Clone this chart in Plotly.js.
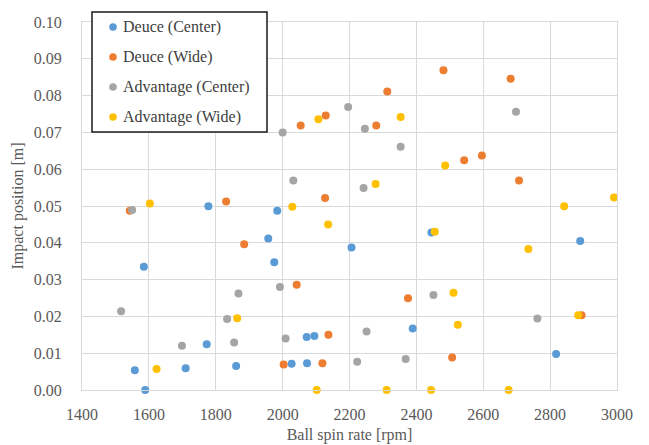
<!DOCTYPE html>
<html>
<head>
<meta charset="utf-8">
<script src="https://cdn.plot.ly/plotly-3.0.1.min.js"></script>
<style>
  html, body { margin: 0; padding: 0; background: #ffffff; }
  #chart { width: 649px; height: 445px; }
</style>
</head>
<body>
<div id="chart"></div>
<script>
// Serve impact position versus ball spin rate, split by court side and serve direction
const seriesNames = ["Deuce (Center)", "Deuce (Wide)", "Advantage (Center)", "Advantage (Wide)"];

const deuceCenterSpin = [1778, 1984, 1957, 1975, 1585, 2206, 2445, 2890, 1773, 2072, 2095, 2389, 1558, 1710, 1861, 2027, 2073, 1589, 2818];
const deuceCenterPos  = [0.0499, 0.0487, 0.0412, 0.0347, 0.0335, 0.0387, 0.0428, 0.0405, 0.0124, 0.0144, 0.0147, 0.0167, 0.0054, 0.0059, 0.0065, 0.0071, 0.0073, 0.0000, 0.0098];

const deuceWideSpin = [1543, 1831, 2054, 2129, 2127, 2313, 2280, 2481, 2682, 2543, 2596, 2707, 1885, 2042, 2375, 2894, 2137, 2003, 2119, 2507];
const deuceWidePos  = [0.0487, 0.0512, 0.0719, 0.0746, 0.0522, 0.0811, 0.0719, 0.0869, 0.0846, 0.0624, 0.0637, 0.0569, 0.0396, 0.0286, 0.0249, 0.0203, 0.0150, 0.0069, 0.0073, 0.0088];

const advCenterSpin = [1550, 2000, 2032, 2196, 2246, 2698, 2353, 2242, 1992, 1868, 1517, 1834, 1699, 1855, 2009, 2451, 2762, 2251, 2223, 2368];
const advCenterPos  = [0.0489, 0.0700, 0.0569, 0.0769, 0.0710, 0.0756, 0.0661, 0.0549, 0.0280, 0.0262, 0.0214, 0.0193, 0.0120, 0.0129, 0.0140, 0.0258, 0.0194, 0.0159, 0.0077, 0.0084];

const advWideSpin = [1603, 2107, 2029, 2353, 2486, 2278, 2842, 2991, 2136, 2455, 2735, 1864, 2511, 2884, 2524, 1623, 2102, 2311, 2444, 2676];
const advWidePos  = [0.0507, 0.0736, 0.0498, 0.0742, 0.0610, 0.0560, 0.0499, 0.0523, 0.0450, 0.0430, 0.0383, 0.0195, 0.0264, 0.0203, 0.0177, 0.0057, 0.0000, 0.0000, 0.0000, 0.0000];

const xTicks = [1400, 1600, 1800, 2000, 2200, 2400, 2600, 2800, 3000];
const yTicks = [0.00, 0.01, 0.02, 0.03, 0.04, 0.05, 0.06, 0.07, 0.08, 0.09, 0.10];

const colors = ["#5B9BD5", "#ED7D31", "#A5A5A5", "#FFC000"];
const xs = [deuceCenterSpin, deuceWideSpin, advCenterSpin, advWideSpin];
const ys = [deuceCenterPos, deuceWidePos, advCenterPos, advWidePos];

const traces = seriesNames.map((name, i) => ({
  type: "scatter",
  mode: "markers",
  name: name,
  x: xs[i],
  y: ys[i],
  marker: { color: colors[i], size: 8, line: { width: 0 } },
  cliponaxis: false,
  showlegend: false
}));

const serif = "Liberation Serif, Tinos, Times New Roman, DejaVu Serif, serif";
const gridColor = "#d9d9d9";

// Plot area geometry in pixels, used to place the boxed legend
const plotLeft = 82, plotRight = 617, plotTop = 22, plotBottom = 390;
const px2x = p => (p - plotLeft) / (plotRight - plotLeft);
const py2y = p => (plotBottom - p) / (plotBottom - plotTop);

const legendBox = { left: 92, right: 267, top: 12, bottom: 132 };
const legendRowTop = 27, legendRowStep = 30, legendMarkerX = 113, legendTextX = 121;

const shapes = [{
  type: "rect", xref: "paper", yref: "paper",
  x0: px2x(legendBox.left), x1: px2x(legendBox.right),
  y0: py2y(legendBox.bottom), y1: py2y(legendBox.top),
  fillcolor: "#ffffff", line: { color: "#1a1a1a", width: 1.5 }, layer: "above"
}];
const annotations = [];
seriesNames.forEach((name, i) => {
  const rowY = legendRowTop + i * legendRowStep;
  shapes.push({
    type: "circle", xref: "paper", yref: "paper",
    xsizemode: "pixel", ysizemode: "pixel",
    xanchor: px2x(legendMarkerX), yanchor: py2y(rowY),
    x0: -3.8, x1: 3.8, y0: -3.8, y1: 3.8,
    fillcolor: colors[i], line: { width: 0 }, layer: "above"
  });
  annotations.push({
    xref: "paper", yref: "paper",
    x: px2x(legendTextX), y: py2y(rowY),
    xanchor: "left", yanchor: "middle",
    text: name, showarrow: false,
    font: { family: serif, size: 16, color: "#404040" }
  });
});

const layout = {
  width: 649,
  height: 445,
  margin: { l: plotLeft, r: 649 - plotRight, t: plotTop, b: 445 - plotBottom },
  paper_bgcolor: "#ffffff",
  plot_bgcolor: "#ffffff",
  font: { family: serif, color: "#595959", size: 15 },
  showlegend: false,
  shapes: shapes,
  annotations: annotations,
  xaxis: {
    range: [1400, 3000],
    tickvals: xTicks,
    ticktext: xTicks.map(String),
    showgrid: true, gridcolor: gridColor, gridwidth: 1,
    showline: true, linecolor: gridColor, linewidth: 1, mirror: true,
    zeroline: false,
    ticks: "", ticklabelstandoff: 10,
    tickfont: { family: serif, size: 16, color: "#595959" },
    title: { text: "Ball spin rate [rpm]", standoff: 6, font: { family: serif, size: 16, color: "#595959" } },
    automargin: false
  },
  yaxis: {
    range: [0, 0.10],
    tickvals: yTicks,
    ticktext: yTicks.map(v => v.toFixed(2)),
    showgrid: true, gridcolor: gridColor, gridwidth: 1,
    showline: true, linecolor: gridColor, linewidth: 1, mirror: true,
    zeroline: false,
    ticks: "", ticklabelstandoff: 16,
    tickfont: { family: serif, size: 16, color: "#595959" },
    title: { text: "Impact position [m]", standoff: 6, font: { family: serif, size: 16, color: "#595959" } },
    automargin: false
  }
};

Plotly.newPlot("chart", traces, layout, { displayModeBar: false, staticPlot: true });
</script>
</body>
</html>
